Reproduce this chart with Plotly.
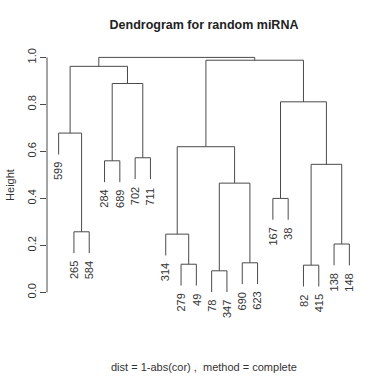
import plotly.graph_objects as go

# ---- data (R hclust style) ----
labels = ["599", "265", "584", "284", "689", "702", "711", "314", "279", "49",
          "78", "347", "690", "623", "167", "38", "82", "415", "138", "148"]
# negative = leaf (1-based index into labels), positive = earlier merge step (1-based)
merge_a = [-11, -17, -9, -13, -19, -8, -2, -15, 1, 2, -4, -6, 6, -1, 8, 11, 14, 13, 17]
merge_b = [-12, -18, -10, -14, -20, 3, -3, -16, 4, 5, -5, -7, 9, 7, 10, 12, 16, 15, 18]
heights = [0.092, 0.116, 0.120, 0.126, 0.206, 0.248, 0.258, 0.400, 0.465, 0.545,
           0.560, 0.573, 0.620, 0.678, 0.811, 0.889, 0.962, 0.988, 1.000]
y_ticks = [0.0, 0.2, 0.4, 0.6, 0.8, 1.0]
y_tick_text = ["0.0", "0.2", "0.4", "0.6", "0.8", "1.0"]

hang = 0.1 * (max(heights) - min(heights))
line_col = "#4a4a4a"
font_family = "Liberation Sans, Arial, sans-serif"

# layout positions computed from merge structure
node_x = {}
def pos(ref):
    if ref < 0:
        return -ref, None
    return node_x[ref], heights[ref - 1]

xs, ys = [], []
leaf_bottom = {}
for k, (a, b) in enumerate(zip(merge_a, merge_b), start=1):
    h = heights[k - 1]
    xa, ha = pos(a)
    xb, hb = pos(b)
    if ha is None:
        ha = h - hang
        leaf_bottom[-a] = ha
    if hb is None:
        hb = h - hang
        leaf_bottom[-b] = hb
    xs += [xa, xa, xb, xb, None]
    ys += [ha, h, h, hb, None]
    node_x[k] = (xa + xb) / 2

fig = go.Figure()
fig.add_trace(go.Scatter(x=xs, y=ys, mode="lines",
                         line=dict(color=line_col, width=1),
                         hoverinfo="skip", showlegend=False))

annotations = []
for i, lab in enumerate(labels, start=1):
    annotations.append(dict(x=i, y=leaf_bottom[i], xref="x", yref="y", text=lab,
                            textangle=-90, showarrow=False, xanchor="center",
                            yanchor="top", yshift=-6,
                            font=dict(family=font_family, size=11, color="#333333")))
annotations.append(dict(x=-0.118, y=0.463, xref="paper", yref="paper", text="Height",
                        textangle=-90, showarrow=False, xanchor="center", yanchor="middle",
                        font=dict(family=font_family, size=11, color="#333333")))
annotations.append(dict(x=0.5, y=-0.251, xref="paper", yref="paper",
                        text="dist = 1-abs(cor) ,  method = complete",
                        showarrow=False, xanchor="center", yanchor="middle",
                        font=dict(family=font_family, size=11, color="#333333")))

fig.update_layout(
    width=385, height=384,
    margin=dict(l=47, r=24, t=48, b=81),
    paper_bgcolor="white", plot_bgcolor="white",
    title=dict(text="<b>Dendrogram for random miRNA</b>", x=0.5, xref="paper",
               xanchor="center", y=1 - 25 / 384, yref="container", yanchor="middle",
               font=dict(family=font_family, size=12.5, color="#222222")),
    xaxis=dict(range=[0.24, 20.76], visible=False, showgrid=False, zeroline=False),
    yaxis=dict(range=[-0.045, 1.04], tickvals=y_ticks, ticktext=y_tick_text,
               tickangle=-90, ticks="outside", ticklen=6, tickcolor=line_col,
               showgrid=False, zeroline=False, showline=False,
               tickfont=dict(family=font_family, size=11, color="#333333")),
    annotations=annotations,
    shapes=[dict(type="line", xref="paper", x0=0, x1=0, yref="y",
                 y0=y_ticks[0], y1=y_ticks[-1], line=dict(color=line_col, width=1))],
)

fig.write_html("out.html",
               config={"displayModeBar": False},
               post_script="document.body.style.margin='0';document.body.style.overflow='hidden';")
